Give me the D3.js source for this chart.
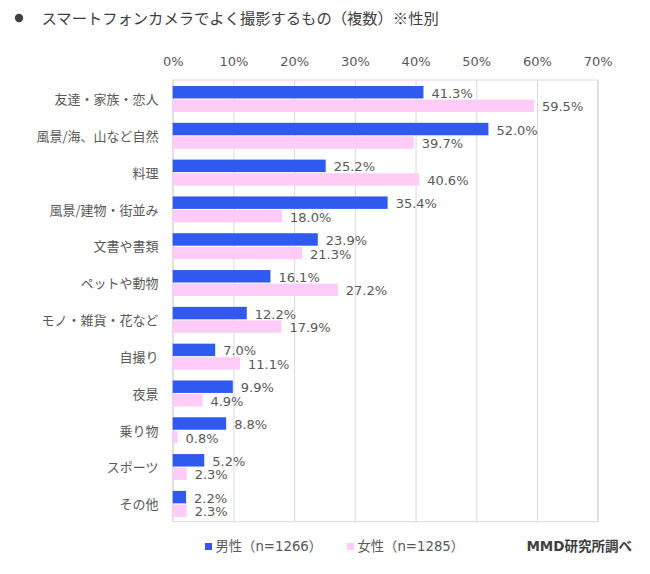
<!DOCTYPE html>
<html>
<head>
<meta charset="utf-8">
<script src="https://cdn.jsdelivr.net/npm/d3@7"></script>
<style>
  html, body { margin: 0; padding: 0; background: #fff; }
  svg { display: block; }
  text { font-family: "DejaVu Sans", "Noto Sans CJK JP", sans-serif; }
</style>
</head>
<body>
<svg id="chart" width="650" height="574"></svg>
<script>
const title = "スマートフォンカメラでよく撮影するもの（複数）※性別";
const categories = ["友達・家族・恋人", "風景/海、山など自然", "料理", "風景/建物・街並み", "文書や書類", "ペットや動物", "モノ・雑貨・花など", "自撮り", "夜景", "乗り物", "スポーツ", "その他"];
const maleValues   = [41.3, 52.0, 25.2, 35.4, 23.9, 16.1, 12.2, 7.0, 9.9, 8.8, 5.2, 2.2];
const femaleValues = [59.5, 39.7, 40.6, 18.0, 21.3, 27.2, 17.9, 11.1, 4.9, 0.8, 2.3, 2.3];
const seriesNames = ["男性（n=1266）", "女性（n=1285）"];
const tickValues = [0, 10, 20, 30, 40, 50, 60, 70];
const sourceText = "MMD研究所調べ";

const colors = ["#3059F0", "#FFCCF7"];
const svg = d3.select("#chart");

const plotL = 172.7, plotR = 597.7, plotT = 80, plotB = 521.7;
const x = d3.scaleLinear().domain([0, 70]).range([plotL, plotR]);
const y = d3.scaleBand().domain(categories).range([plotT, plotB]);
const inner = d3.scaleBand().domain([0, 1]).range([6, 32]).paddingInner(0.08);

// title
svg.append("circle").attr("cx", 19).attr("cy", 18).attr("r", 4.2).attr("fill", "#404040");
svg.append("text").attr("x", 41.5).attr("y", 18).attr("dy", "0.36em")
  .attr("font-size", 15.3).attr("fill", "#404040")
  .style("font-family", "'Noto Sans CJK JP', sans-serif")
  .text(title);

// grid
const grid = svg.append("g").attr("transform", `translate(0,${plotB})`)
  .call(d3.axisBottom(x).tickValues(tickValues).tickSize(-(plotB - plotT)).tickFormat(""));
grid.select(".domain").remove();
grid.selectAll("line").attr("stroke", "#d9d9d9").attr("stroke-width", 1);
svg.append("rect").attr("x", plotL).attr("y", plotT).attr("width", plotR - plotL).attr("height", plotB - plotT)
  .attr("fill", "none").attr("stroke", "#d9d9d9").attr("stroke-width", 1);

// top axis labels
const ax = svg.append("g").attr("transform", `translate(0,${plotT})`)
  .call(d3.axisTop(x).tickValues(tickValues).tickSize(0).tickPadding(14).tickFormat(d => d + "%"));
ax.select(".domain").remove();
ax.selectAll("text").attr("font-size", 13).attr("fill", "#595959")
  .style("font-family", "'DejaVu Sans', sans-serif");

// category labels
svg.append("g").selectAll("text").data(categories).join("text")
  .attr("x", 158.5).attr("y", d => y(d) + y.bandwidth() / 2 + 1.3)
  .attr("dy", "0.35em").attr("text-anchor", "end")
  .attr("font-size", 13).attr("fill", "#595959")
  .style("font-family", "'Noto Sans CJK JP', sans-serif")
  .text(d => d);

// bars
const series = [maleValues, femaleValues];
series.forEach((vals, si) => {
  const g = svg.append("g");
  g.selectAll("rect").data(vals).join("rect")
    .attr("x", x(0)).attr("y", (d, i) => y(categories[i]) + inner(si))
    .attr("width", d => x(d) - x(0)).attr("height", inner.bandwidth())
    .attr("fill", colors[si]);
  g.selectAll("text").data(vals).join("text")
    .attr("x", d => x(d) + 8)
    .attr("y", (d, i) => y(categories[i]) + inner(si) + inner.bandwidth() / 2 + 1)
    .attr("dy", "0.35em").attr("font-size", 13).attr("fill", "#595959")
    .text(d => d.toFixed(1) + "%");
});

// legend
const legendX = [205, 347];
seriesNames.forEach((name, i) => {
  svg.append("rect").attr("x", legendX[i]).attr("y", 543).attr("width", 7).attr("height", 7).attr("fill", colors[i]);
  svg.append("text").attr("x", legendX[i] + 10.5).attr("y", 546.5).attr("dy", "0.35em")
    .attr("font-size", 13.3).attr("fill", "#595959").text(name);
});

svg.append("text").attr("x", 632).attr("y", 546.7).attr("dy", "0.35em")
  .attr("text-anchor", "end").attr("font-size", 13.5).attr("font-weight", "bold")
  .attr("fill", "#404040").text(sourceText);
</script>
</body>
</html>
